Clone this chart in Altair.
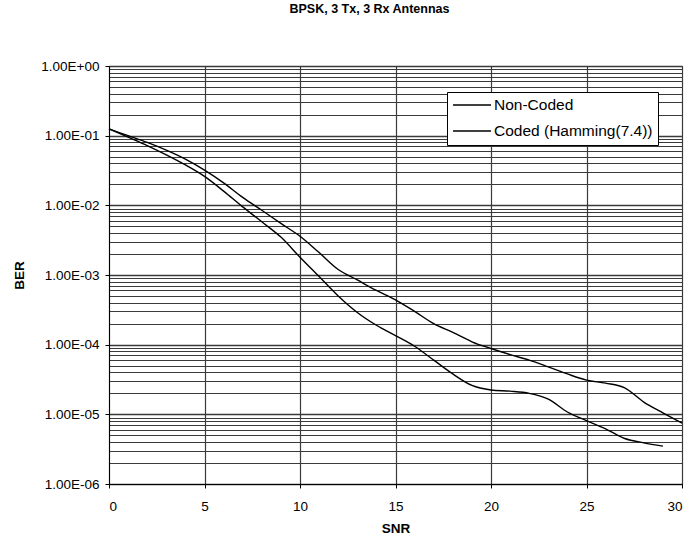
import altair as alt
import pandas as pd
import math

# ---- data ----
title_text = "BPSK, 3 Tx, 3 Rx Antennas"
series_names = ["Non-Coded", "Coded (Hamming(7.4))"]

snr_non_coded = list(range(0, 31))
ber_non_coded = [0.125, 0.10, 0.08, 0.062, 0.046, 0.032, 0.021, 0.013, 0.0085, 0.0055,
                 0.0036, 0.0021, 0.0012, 0.00085, 0.0006, 0.00044, 0.0003, 0.0002, 0.00015, 0.00011,
                 0.000088, 0.000072, 0.00006, 0.000048, 0.000038, 0.000031, 0.000028, 0.000024,
                 0.000015, 0.0000105, 0.0000075]

snr_coded = list(range(0, 30))
ber_coded = [0.125, 0.095, 0.072, 0.053, 0.038, 0.026, 0.016, 0.0095, 0.0058, 0.0035,
             0.0018, 0.00095, 0.0005, 0.00029, 0.00019, 0.000135, 0.000095, 0.00006, 0.000038, 0.000026,
             0.0000224, 0.0000215, 0.00002, 0.0000165, 0.0000108, 0.0000081, 0.0000062, 0.0000045,
             0.0000039, 0.0000035]

x_ticks = [0, 5, 10, 15, 20, 25, 30]
y_decades = [1e-6, 1e-5, 1e-4, 1e-3, 1e-2, 1e-1, 1.0]
y_labels = ["1.00E-06", "1.00E-05", "1.00E-04", "1.00E-03", "1.00E-02", "1.00E-01", "1.00E+00"]
minor_mult = [1, 2, 3, 4, 5, 6, 7, 8, 9]

# gridline positions: every m x 10^k
y_grid = sorted({round(m * d, 12) for d in y_decades[:-1] for m in minor_mult} | {1.0})

rows = []
for s, b in zip(snr_non_coded, ber_non_coded):
    rows.append({"SNR": s, "BER": b, "series": series_names[0]})
for s, b in zip(snr_coded, ber_coded):
    rows.append({"SNR": s, "BER": b, "series": series_names[1]})
df = pd.DataFrame(rows)

FONT = "Liberation Sans"
GRID = "#3a3a3a"
LAB = 13.5

# label expression: only decades get a label
lg = "log(datum.value)/LN10"
label_expr = "''"
for v, lab in zip(y_decades, y_labels):
    e = int(round(math.log10(v)))
    label_expr = f"abs({lg} - ({e})) < 0.001 ? '{lab}' : ({label_expr})"
is_decade = f"abs({lg} - round({lg})) < 0.001"

common = dict(labelFont=FONT, labelFontSize=LAB, labelColor="black",
              titleFont=FONT, titleFontSize=13.5, titleFontWeight="bold", titleColor="black",
              domainColor="black", tickColor="black", gridColor=GRID, gridOpacity=1)

chart = alt.Chart(df).mark_line(strokeWidth=1.4, interpolate="monotone").encode(
    x=alt.X("SNR:Q",
            scale=alt.Scale(domain=[0, 30], nice=False),
            axis=alt.Axis(values=x_ticks, title="SNR", grid=True, gridWidth=1.2,
                          tickSize=4, labelPadding=11,
                          titleY=37, titleBaseline="top", **common)),
    y=alt.Y("BER:Q",
            scale=alt.Scale(type="log", domain=[1e-6, 1], nice=False),
            axis=alt.Axis(values=y_grid, title="BER", grid=True,
                          labelExpr=label_expr, labelOverlap=False,
                          tickSize=4, labelPadding=6,
                          tickOpacity={"condition": {"test": is_decade, "value": 1}, "value": 0},
                          gridWidth={"condition": {"test": is_decade, "value": 1.6}, "value": 1},
                          titleX=-83, titleY=209, **common)),
    color=alt.Color("series:N",
                    scale=alt.Scale(domain=series_names, range=["black", "black"]),
                    legend=alt.Legend(title=None, orient="none", legendX=338, legendY=26,
                                      direction="vertical", symbolType="stroke",
                                      symbolSize=1444, symbolStrokeWidth=1.3,
                                      clipHeight=16, rowPadding=9, padding=5,
                                      labelOffset=2, labelFontSize=15.5, labelFont=FONT,
                                      labelColor="black", fillColor="white",
                                      strokeColor="black", cornerRadius=0)),
    detail="series:N",
).properties(
    width=573, height=418,
    background="white",
    title=alt.TitleParams(title_text, anchor="middle", font=FONT, fontSize=12.5,
                          fontWeight="bold", color="black", offset=44, dx=-26),
    padding={"left": 109, "top": 66, "right": 9, "bottom": 63},
    autosize=alt.AutoSizeParams(type="none"),
).configure_view(stroke="black", strokeWidth=1)

chart.save("out.html", embed_options={"renderer": "svg", "actions": False})
